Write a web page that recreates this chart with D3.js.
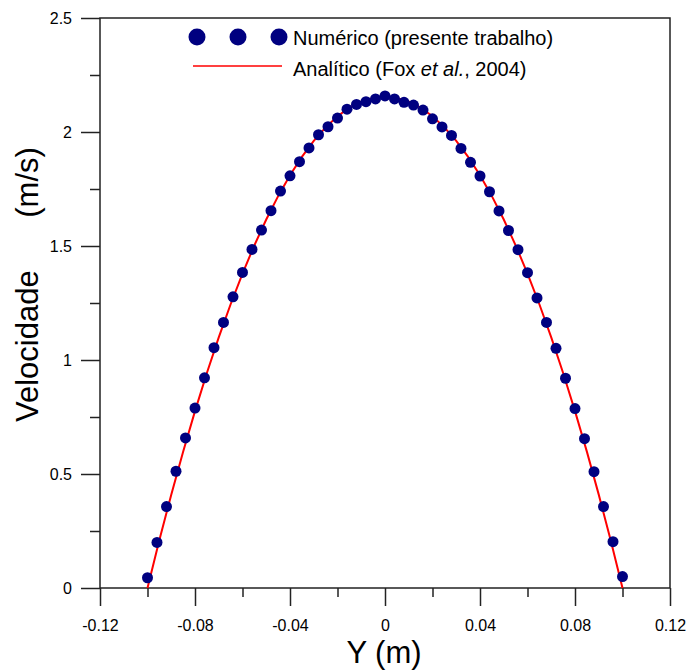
<!DOCTYPE html>
<html>
<head>
<meta charset="utf-8">
<script src="https://cdn.jsdelivr.net/npm/d3@7"></script>
<style>
  html, body { margin: 0; padding: 0; background: #fff; }
  svg { display: block; font-family: "Liberation Sans", Arial, sans-serif; }
</style>
</head>
<body>
<svg id="chart" width="686" height="670"></svg>
<script>
// Numerical solution points (Y in m, velocity in m/s)
const numY = [-0.100,-0.096,-0.092,-0.088,-0.084,-0.080,-0.076,-0.072,-0.068,-0.064,-0.060,-0.056,-0.052,-0.048,-0.044,-0.040,-0.036,-0.032,-0.028,-0.024,-0.020,-0.016,-0.012,-0.008,-0.004,0.000,0.004,0.008,0.012,0.016,0.020,0.024,0.028,0.032,0.036,0.040,0.044,0.048,0.052,0.056,0.060,0.064,0.068,0.072,0.076,0.080,0.084,0.088,0.092,0.096,0.100];
const numV = [0.045,0.200,0.357,0.512,0.658,0.789,0.922,1.054,1.165,1.277,1.384,1.485,1.570,1.655,1.741,1.808,1.870,1.930,1.988,2.023,2.061,2.100,2.121,2.133,2.145,2.158,2.145,2.130,2.118,2.096,2.058,2.022,1.985,1.928,1.867,1.807,1.738,1.654,1.568,1.484,1.383,1.272,1.165,1.051,0.920,0.787,0.655,0.510,0.357,0.203,0.050];

// Analytical curve (Fox et al., 2004)
const anaY = [-0.100,-0.095,-0.090,-0.085,-0.080,-0.075,-0.070,-0.065,-0.060,-0.055,-0.050,-0.045,-0.040,-0.035,-0.030,-0.025,-0.020,-0.015,-0.010,-0.005,0.000,0.005,0.010,0.015,0.020,0.025,0.030,0.035,0.040,0.045,0.050,0.055,0.060,0.065,0.070,0.075,0.080,0.085,0.090,0.095,0.100];
const anaV = [0,0.2101,0.4095,0.5980,0.7758,0.9428,1.0991,1.2445,1.3792,1.5031,1.6163,1.7186,1.8102,1.8910,1.9611,2.0203,2.0688,2.1065,2.1335,2.1496,2.155,2.1496,2.1335,2.1065,2.0688,2.0203,1.9611,1.8910,1.8102,1.7186,1.6163,1.5031,1.3792,1.2445,1.0991,0.9428,0.7758,0.5980,0.4095,0.2101,0];

const xMajorTicks = [-0.12,-0.08,-0.04,0,0.04,0.08,0.12];
const xTickLabels = ["-0.12","-0.08","-0.04","0","0.04","0.08","0.12"];
const xMinorTicks = [-0.10,-0.06,-0.02,0.02,0.06,0.10];
const yMajorTicks = [0,0.5,1,1.5,2,2.5];
const yTickLabels = ["0","0.5","1","1.5","2","2.5"];
const yMinorTicks = [0.25,0.75,1.25,1.75,2.25];

const legendLabels = ["Numérico (presente trabalho)", "Analítico (Fox ", "et al.", ", 2004)"];

const svg = d3.select("#chart");
const L = 100, R = 670, T = 18, B = 588;
const x = d3.scaleLinear().domain([-0.12, 0.12]).range([L, R]);
const y = d3.scaleLinear().domain([0, 2.5]).range([B, T]);
const axisColor = "#222";

// frame
svg.append("rect").attr("x", L).attr("y", T).attr("width", R - L).attr("height", B - T)
  .attr("fill", "none").attr("stroke", axisColor).attr("stroke-width", 1.5);

// x axis
const xAxis = d3.axisBottom(x).tickValues(xMajorTicks).tickSize(18).tickPadding(14)
  .tickFormat((d, i) => xTickLabels[i]);
const gx = svg.append("g").attr("transform", `translate(0,${B})`).call(xAxis);
gx.select(".domain").remove();
gx.selectAll("line").attr("stroke", axisColor).attr("stroke-width", 1.5);
gx.selectAll("text").attr("font-size", 16).attr("fill", "#000")
  .attr("font-family", "Liberation Sans, Arial, sans-serif");
const gxm = svg.append("g").attr("transform", `translate(0,${B})`)
  .call(d3.axisBottom(x).tickValues(xMinorTicks).tickSize(9).tickFormat(""));
gxm.select(".domain").remove();
gxm.selectAll("line").attr("stroke", axisColor).attr("stroke-width", 1.5);

// y axis
const yAxis = d3.axisLeft(y).tickValues(yMajorTicks).tickSize(19).tickPadding(9)
  .tickFormat((d, i) => yTickLabels[i]);
const gy = svg.append("g").attr("transform", `translate(${L},0)`).call(yAxis);
gy.select(".domain").remove();
gy.selectAll("line").attr("stroke", axisColor).attr("stroke-width", 1.5);
gy.selectAll("text").attr("font-size", 16).attr("fill", "#000")
  .attr("font-family", "Liberation Sans, Arial, sans-serif");
const gym = svg.append("g").attr("transform", `translate(${L},0)`)
  .call(d3.axisLeft(y).tickValues(yMinorTicks).tickSize(10).tickFormat(""));
gym.select(".domain").remove();
gym.selectAll("line").attr("stroke", axisColor).attr("stroke-width", 1.5);

// axis titles
svg.append("text").attr("x", 384).attr("y", 663).attr("text-anchor", "middle")
  .attr("font-size", 31).attr("fill", "#000").text("Y (m)");
const yt = svg.append("text").attr("transform", "translate(38,422) rotate(-90)")
  .attr("font-size", 31).attr("fill", "#000");
yt.append("tspan").text("Velocidade");
yt.append("tspan").attr("dx", 44).text(" (m/s)");

// analytical line
const line = d3.line().x((d, i) => x(anaY[i])).y((d, i) => y(anaV[i]));
svg.append("path").datum(anaV).attr("d", line).attr("fill", "none")
  .attr("stroke", "#ff0000").attr("stroke-width", 2);

// numerical points
svg.append("g").selectAll("circle").data(numV).join("circle")
  .attr("cx", (d, i) => x(numY[i])).attr("cy", d => y(d)).attr("r", 5.5)
  .attr("fill", "#000080");

// legend
const lg = svg.append("g");
[197, 238, 279].forEach(cx => lg.append("circle").attr("cx", cx).attr("cy", 37).attr("r", 8.5).attr("fill", "#000080"));
lg.append("text").attr("x", 293).attr("y", 45).attr("font-size", 20).attr("fill", "#000").text(legendLabels[0]);
lg.append("line").attr("x1", 193).attr("x2", 282).attr("y1", 66).attr("y2", 66)
  .attr("stroke", "#ff0000").attr("stroke-width", 1.5);
const t2 = lg.append("text").attr("x", 293).attr("y", 76).attr("font-size", 20).attr("fill", "#000");
t2.append("tspan").text(legendLabels[1]);
t2.append("tspan").attr("font-style", "italic").text(legendLabels[2]);
t2.append("tspan").text(legendLabels[3]);
</script>
</body>
</html>
